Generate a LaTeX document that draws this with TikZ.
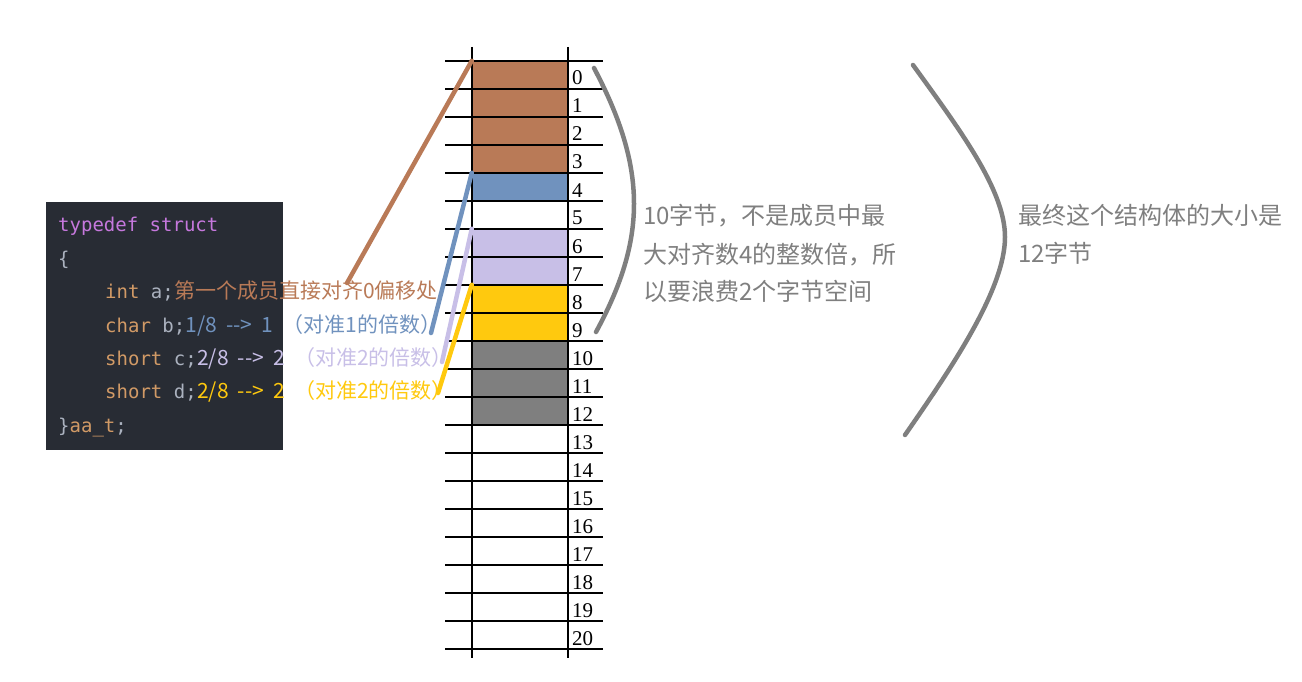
\documentclass[tikz,border=0pt]{standalone}
\usepackage{fontspec}
\setmainfont{Liberation Serif}
\setmonofont{DejaVu Sans Mono}
\newfontfamily\cjk{Noto Sans CJK SC}
\definecolor{brn}{HTML}{B97A57}
\definecolor{blu}{HTML}{7092BE}
\definecolor{lav}{HTML}{C8BFE7}
\definecolor{yel}{HTML}{FFC90E}
\definecolor{gry}{HTML}{7F7F7F}
\definecolor{codebg}{HTML}{282C34}
\definecolor{kw}{HTML}{C678DD}
\definecolor{ty}{HTML}{D19A66}
\definecolor{pl}{HTML}{ABB2BF}
\newcommand{\arr}[1]{#1\hspace{4.5pt} -\kern0pt->\hspace{4.5pt} }
\begin{document}
\begin{tikzpicture}[x=1pt,y=-1pt,
  cell/.style={minimum width=96pt,minimum height=28pt,inner sep=0pt},
  num/.style={anchor=base west,inner sep=0pt,font=\fontsize{21}{21}\selectfont},
  grid/.style={line width=1.2pt,black},
  code/.style={anchor=base west,inner sep=0pt,font=\ttfamily\fontsize{19}{19}\selectfont,text=pl},
  cmt/.style={anchor=base west,inner sep=0pt,font=\cjk\fontsize{21}{21}\selectfont},
  note/.style={anchor=base west,inner sep=0pt,font=\cjk\fontsize{24}{24}\selectfont,text=gry},
  conn/.style={line width=4.5pt,line cap=round},
  brace/.style={line width=4.5pt,gry,line cap=round}]
\useasboundingbox (0,0) rectangle (1302,682);
% code box
\node[fill=codebg,minimum width=237pt,minimum height=248pt,inner sep=0pt,anchor=north west] (codebox) at (46,202) {};
\node[code] (l1) at (58,232) {\color{kw}typedef struct};
\node[code] (l2) at (58,265) {\{};
\node[code] (l3) at (105,298) {{\color{ty}int} a;};
\node[code] (l4) at (105,332) {{\color{ty}char} b;};
\node[code] (l5) at (105,365) {{\color{ty}short} c;};
\node[code] (l6) at (105,398) {{\color{ty}short} d;};
\node[code] (l7) at (58,432) {\}{\color{ty}aa\_t};};
\node[cmt,text=brn] (m3) at (l3.base east) {第一个成员直接对齐0偏移处};
\node[cmt,text=blu] (m4) at (l4.base east) {\arr{1/8}1\hspace{4.5pt} （对准1的倍数）};
\node[cmt,text=lav] (m5) at (l5.base east) {\arr{2/8}2\hspace{4.5pt} （对准2的倍数）};
\node[cmt,text=yel] (m6) at (l6.base east) {\arr{2/8}2\hspace{4.5pt} （对准2的倍数）};
% memory cells
\foreach \i in {0,...,20} {
  \node[cell] (c\i) at (520,{75+28*\i}) {};
  \node[num] (n\i) at (572,{85+28*\i}) {\i};
}
\foreach \i/\c in {0/brn,1/brn,2/brn,3/brn,4/blu,6/lav,7/lav,8/yel,9/yel,10/gry,11/gry,12/gry}
  \fill[\c] (c\i.north west) rectangle (c\i.south east);
\foreach \k in {0,...,21}
  \draw[grid] (445,{61+28*\k}) -- (603,{61+28*\k});
\draw[grid] (472,47) -- (472,658);
\draw[grid] (568,47) -- (568,658);
% connectors
\coordinate (ea) at (347,283);
\coordinate (eb) at (431,333);
\coordinate (ec) at (442,362);
\coordinate (ed) at (438,393);
\draw[conn,brn] (ea) -- (c0.north west);
\draw[conn,blu] (eb) -- (c4.north west);
\draw[conn,lav] (ec) -- (c6.north west);
\draw[conn,yel] (ed) -- (c8.north west);
% braces
\coordinate (b1t) at (594,68);
\coordinate (b1b) at (596,332);
\draw[brace] (b1t) .. controls (648,170) and (646,240) .. (b1b);
\coordinate (b2t) at (913,65);
\coordinate (b2m) at (1005,237);
\coordinate (b2b) at (905,435);
\draw[brace] (b2t) .. controls (960,130) and (1005,190) .. (b2m) .. controls (1005,290) and (950,370) .. (b2b);
% notes
\node[note] (t1) at (643,225) {10字节，不是成员中最};
\node[note] (t2) at (643,263) {大对齐数4的整数倍，所};
\node[note] (t3) at (643,300) {以要浪费2个字节空间};
\node[note] (r1) at (1018,225) {最终这个结构体的大小是};
\node[note] (r2) at (1018,262) {12字节};
\end{tikzpicture}
\end{document}
